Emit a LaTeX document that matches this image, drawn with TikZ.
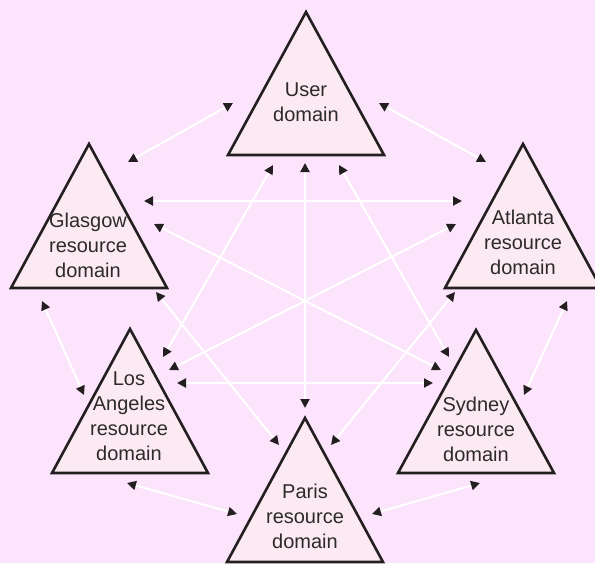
\documentclass[tikz,border=0pt]{standalone}
\usepackage{fontspec}
\setmainfont{Liberation Sans}
\usetikzlibrary{arrows.meta}
\definecolor{bgc}{RGB}{252,228,252}
\definecolor{trifill}{RGB}{252,234,242}
\definecolor{inkc}{RGB}{35,31,32}
\definecolor{textc}{RGB}{45,42,44}
\tikzset{
  dombox/.style={draw=inkc, fill=trifill, line width=2.6pt, line join=miter},
  domtext/.style={align=center, inner sep=0pt, text=textc,
    font=\fontsize{20pt}{25pt}\selectfont},
  conn/.style={draw=white, line width=2pt,
    {Triangle[length=9pt,width=9pt,color=inkc]}-{Triangle[length=9pt,width=9pt,color=inkc]}}
}
\begin{document}
\begin{tikzpicture}[x=1pt,y=-1pt]
\useasboundingbox (0,0) rectangle (595,563);
\clip (0,0) rectangle (595,563);
\fill[bgc] (0,0) rectangle (595,563);

% triangles
\draw[dombox] (306,12) -- (384,155) -- (228,155) -- cycle;
\draw[dombox] (89,144) -- (167,288) -- (11,288) -- cycle;
\draw[dombox] (523,144) -- (601,288) -- (445,288) -- cycle;
\draw[dombox] (130,329) -- (208,473) -- (52,473) -- cycle;
\draw[dombox] (476,330) -- (554,473) -- (398,473) -- cycle;
\draw[dombox] (305,418) -- (383,562) -- (227,562) -- cycle;

% labels
\node[domtext] (user) at (306,102) {User\\domain};
\node[domtext] (glasgow) at (88,245.5) {Glasgow\\resource\\domain};
\node[domtext] (atlanta) at (523,242.5) {Atlanta\\resource\\domain};
\node[domtext] (la) at (129,416) {Los\\Angeles\\resource\\domain};
\node[domtext] (sydney) at (476,429.5) {Sydney\\resource\\domain};
\node[domtext] (paris) at (305,516.5) {Paris\\resource\\domain};

% connector end points
\coordinate (uG) at (233,103);  \coordinate (Gu) at (128,162);
\coordinate (uA) at (379,103);  \coordinate (Au) at (486,162);
\coordinate (uL) at (273,165);  \coordinate (Lu) at (163,357);
\coordinate (uP) at (305,163);  \coordinate (Pu) at (305,408);
\coordinate (uS) at (339,165);  \coordinate (Su) at (449,357);
\coordinate (GA) at (144,201);  \coordinate (AG) at (462,201);
\coordinate (GS) at (154,224);  \coordinate (SG) at (441,370);
\coordinate (GP) at (156,292);  \coordinate (PG) at (279,445);
\coordinate (GL) at (42,301);   \coordinate (LG) at (84,395);
\coordinate (AL) at (456,224);  \coordinate (LA) at (169,370);
\coordinate (AS) at (567,301);  \coordinate (SA) at (524,395);
\coordinate (AP) at (455,292);  \coordinate (PA) at (331,445);
\coordinate (LS) at (177,383);  \coordinate (SL) at (433,383);
\coordinate (LP) at (127,483);  \coordinate (PL) at (237,514);
\coordinate (SP) at (480,483);  \coordinate (PS) at (372,514);

% connectors
\draw[conn] (uG) -- (Gu);
\draw[conn] (uA) -- (Au);
\draw[conn] (uL) -- (Lu);
\draw[conn] (uP) -- (Pu);
\draw[conn] (uS) -- (Su);
\draw[conn] (GA) -- (AG);
\draw[conn] (GS) -- (SG);
\draw[conn] (GP) -- (PG);
\draw[conn] (GL) -- (LG);
\draw[conn] (AL) -- (LA);
\draw[conn] (AS) -- (SA);
\draw[conn] (AP) -- (PA);
\draw[conn] (LS) -- (SL);
\draw[conn] (LP) -- (PL);
\draw[conn] (SP) -- (PS);
\end{tikzpicture}
\end{document}
